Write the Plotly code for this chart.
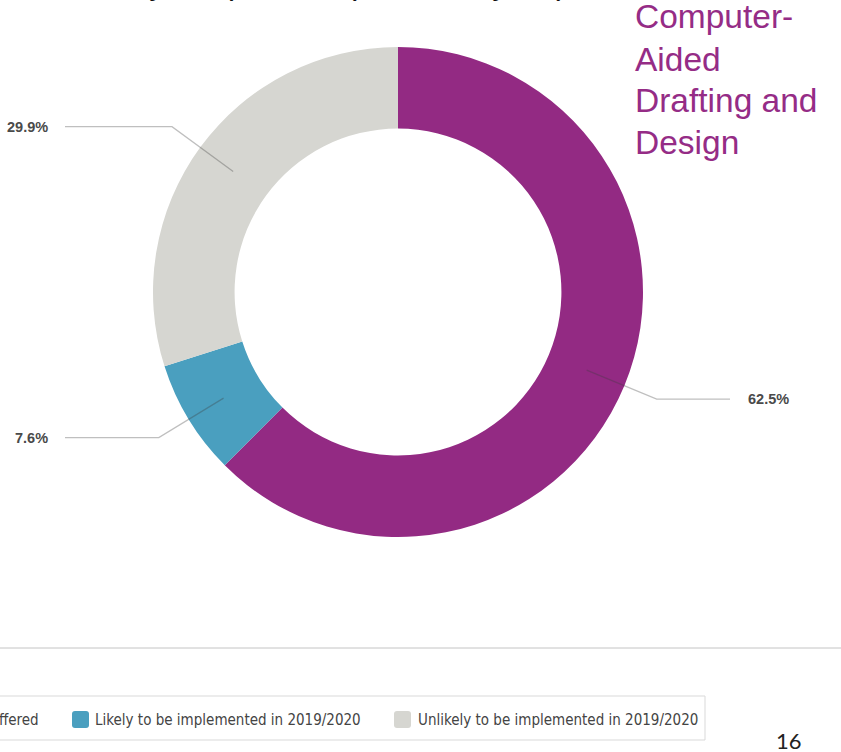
import math
import plotly.graph_objects as go

# Survey responses for Computer-Aided Drafting and Design
categories = [
    "Currently offered",
    "Likely to be implemented in 2019/2020",
    "Unlikely to be implemented in 2019/2020",
]
values = [62.5, 7.6, 29.9]
colors = ["#932A83", "#4A9FBF", "#D6D6D1"]

W, H = 841, 752
CX, CY, R = 398, 292, 245          # donut centre and outer radius (px)
HOLE = 0.667


def px(x):
    return x / W


def py(y):
    return 1 - y / H


fig = go.Figure(
    go.Pie(
        labels=categories,
        values=values,
        marker=dict(colors=colors, line=dict(width=0)),
        hole=HOLE,
        sort=False,
        direction="clockwise",
        rotation=0,
        textinfo="none",
        hoverinfo="label+percent",
        showlegend=False,
        domain=dict(x=[px(CX - R), px(CX + R)], y=[py(CY + R), py(CY - R)]),
    )
)

shapes = []
annotations = []

# Leader lines and value labels, placed from each slice's mid angle
total = sum(values)
start = 0.0
r_in = (R * HOLE + R) / 2
r_elbow = 280
for v in values:
    mid = (start + v / 2) / total * 2 * math.pi
    start += v
    sx, sy = math.sin(mid), -math.cos(mid)
    x1, y1 = CX + r_in * sx, CY + r_in * sy
    x2, y2 = CX + r_elbow * sx, CY + r_elbow * sy
    right = sx > 0
    x3 = 730 if right else 65
    shapes.append(dict(
        type="path", xref="paper", yref="paper",
        path=f"M{px(x1)},{py(y1)} L{px(x2)},{py(y2)} L{px(x3)},{py(y2)}",
        line=dict(color="rgba(60,60,60,0.33)", width=1.3),
    ))
    annotations.append(dict(
        x=px(x3 + 16 if right else x3 - 15), y=py(y2),
        xref="paper", yref="paper", showarrow=False,
        xanchor="left" if right else "right", yanchor="middle",
        text=f"<b>{v}%</b>",
        font=dict(family="Liberation Sans, Arial, sans-serif", size=14.5, color="#4a4a4a"),
    ))

# Separator rule above the legend
shapes.append(dict(type="line", xref="paper", yref="paper",
                   x0=0, x1=1, y0=py(648), y1=py(648),
                   line=dict(color="#c4c4c4", width=1)))

# Legend box
shapes.append(dict(type="rect", xref="paper", yref="paper",
                   x0=px(-10), x1=px(705), y0=py(740), y1=py(696),
                   line=dict(color="#d9d9d9", width=1), fillcolor="white", layer="below"))

legend_font = dict(family="Liberation Sans Narrow, DejaVu Sans Condensed, Roboto, sans-serif",
                   size=15, color="#444")
legend_swatch_x = [-125, 72, 394]
legend_text_x = [41, 93, 416]
legend_anchor = ["right", "left", "left"]
for name, col, sx0, tx, anc in zip(categories, colors, legend_swatch_x, legend_text_x, legend_anchor):
    a, b, c, d, rr = sx0, sx0 + 17, 711, 728, 3
    shapes.append(dict(
        type="path", xref="paper", yref="paper", fillcolor=col, line=dict(width=0),
        path=(f"M{px(a + rr)},{py(c)} L{px(b - rr)},{py(c)} Q{px(b)},{py(c)} {px(b)},{py(c + rr)} "
              f"L{px(b)},{py(d - rr)} Q{px(b)},{py(d)} {px(b - rr)},{py(d)} "
              f"L{px(a + rr)},{py(d)} Q{px(a)},{py(d)} {px(a)},{py(d - rr)} "
              f"L{px(a)},{py(c + rr)} Q{px(a)},{py(c)} {px(a + rr)},{py(c)} Z"),
    ))
    annotations.append(dict(x=px(tx), y=py(719.5), xref="paper", yref="paper",
                            showarrow=False, xanchor=anc, yanchor="middle",
                            text=name, font=legend_font))

# Slide heading (top line runs off the page) and programme name
annotations.append(dict(x=px(-32), y=py(-17.5), xref="paper", yref="paper",
                        showarrow=False, xanchor="left", yanchor="middle",
                        text="Offered this year (2018/19), or next year)",
                        font=dict(family="Liberation Sans, Arial, sans-serif", size=33, color="#111")))
title_lines = ["Computer-", "Aided", "Drafting and", "Design"]
title_y = [16.4, 59.4, 100.4, 142.4]
for line, ty in zip(title_lines, title_y):
    annotations.append(dict(x=px(633), y=py(ty), xref="paper", yref="paper",
                            showarrow=False, xanchor="left", yanchor="middle",
                            text=line,
                            font=dict(family="Liberation Sans, Arial, sans-serif", size=33.5,
                                      color="#952C86")))

# Page number
annotations.append(dict(x=px(789), y=py(740), xref="paper", yref="paper",
                        showarrow=False, xanchor="center", yanchor="middle",
                        text="16", font=dict(family="Lato, sans-serif", size=22, color="#222")))

fig.update_layout(
    width=W, height=H,
    margin=dict(l=0, r=0, t=0, b=0, autoexpand=False),
    paper_bgcolor="white", plot_bgcolor="white",
    shapes=shapes, annotations=annotations,
)

fig.write_html("out.html")
